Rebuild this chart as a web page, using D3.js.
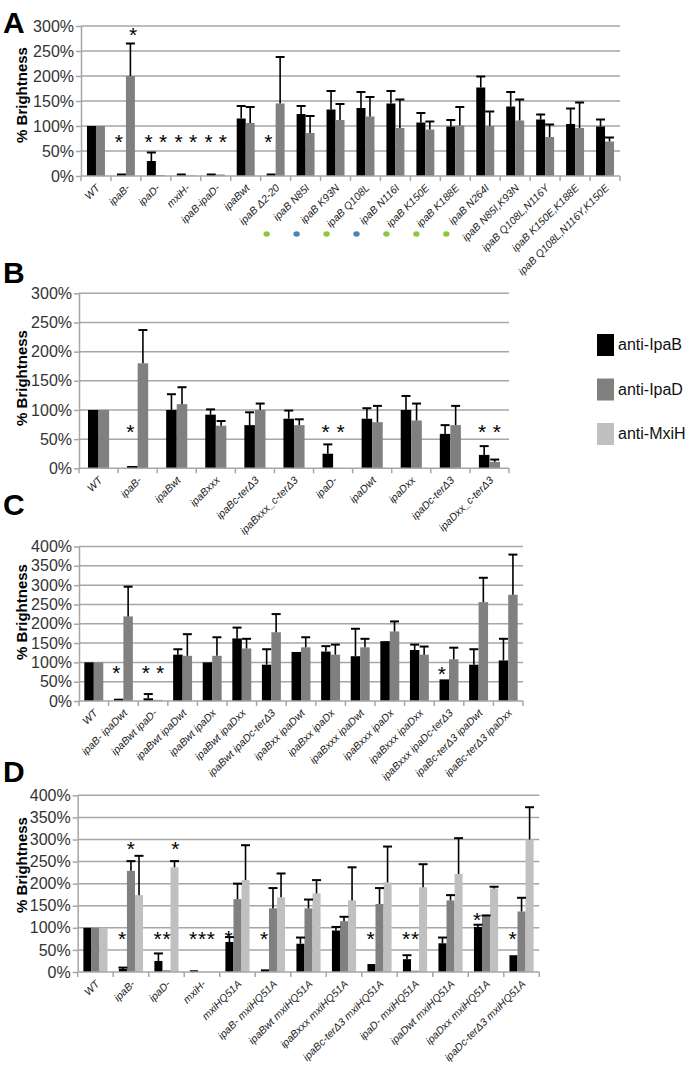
<!DOCTYPE html>
<html><head><meta charset="utf-8">
<script src="https://cdn.jsdelivr.net/npm/d3@7"></script>
<style>body{margin:0;background:#fff;} svg{display:block;font-family:"Liberation Sans",Arial,sans-serif;}</style>
</head><body><svg id="c" width="685" height="1066"></svg>
<script>
// ---------- series ----------
const seriesNames = ["anti-IpaB", "anti-IpaD", "anti-MxiH"];
const seriesColors = ["#000000", "#808080", "#c0c0c0"];

// ---------- Panel A ----------
const catsA = ["WT","ipaB-","ipaD-","mxiH-","ipaB-ipaD-","ipaBwt","ipaB Δ2-20","ipaB N85I","ipaB K93N","ipaB Q108L","ipaB N116I","ipaB K150E","ipaB K188E","ipaB N264I","ipaB N85I,K93N","ipaB Q108L,N116Y","ipaB K150E,K188E","ipaB Q108L,N116Y,K150E"];
const ipaB_A    = [100, 5, 30, 5, 5, 115, 5, 124, 133, 136, 145, 107, 99, 177, 139, 113, 104, 99];
const ipaBErr_A = [null, null, 17, null, null, 25, null, 16, 37, 32, 25, 19, 13, 22, 29, 10, 31, 14];
const ipaD_A    = [100, 200, 2, 1, 3, 106, 145, 86, 112, 119, 96, 93, 101, 100, 111, 78, 96, 69];
const ipaDErr_A = [null, 65, null, null, null, 32, 93, 34, 32, 39, 57, 16, 37, 29, 42, 25, 51, 8];
const ticksA = [0, 50, 100, 150, 200, 250, 300];
// [category, series, level %]
const starsA = [["ipaB-",1,292],["ipaB-",0,78],["ipaD-",0,78],["ipaD-",1,78],["mxiH-",0,78],["mxiH-",1,78],["ipaB-ipaD-",0,78],["ipaB-ipaD-",1,78],["ipaB Δ2-20",0,78]];
const dotsA = [["ipaB Δ2-20","#8dc63f"],["ipaB N85I","#4f81bd"],["ipaB K93N","#8dc63f"],["ipaB Q108L","#4f81bd"],["ipaB N116I","#8dc63f"],["ipaB K150E","#8dc63f"],["ipaB K188E","#8dc63f"]];

// ---------- Panel B ----------
const catsB = ["WT","ipaB-","ipaBwt","ipaBxxx","ipaBc-terΔ3","ipaBxxx_c-terΔ3","ipaD-","ipaDwt","ipaDxx","ipaDc-terΔ3","ipaDxx_c-terΔ3"];
const ipaB_B    = [100, 4, 100, 92, 74, 85, 25, 85, 100, 59, 23];
const ipaBErr_B = [null, null, 27, 9, 22, 14, 16, 18, 24, 15, 15];
const ipaD_B    = [100, 180, 110, 73, 100, 74, 0, 79, 82, 74, 11];
const ipaDErr_B = [null, 57, 29, 8, 11, 10, null, 28, 29, 33, 4];
const ticksB = [0, 50, 100, 150, 200, 250, 300];
const starsB = [["ipaB-",0,71],["ipaD-",0,71],["ipaD-",1,71],["ipaDxx_c-terΔ3",0,71],["ipaDxx_c-terΔ3",1,71]];

// ---------- Panel C ----------
const catsC = ["WT","ipaB- ipaDwt","ipaBwt ipaD-","ipaBwt ipaDwt","ipaBwt ipaDx","ipaBwt ipaDxx","ipaBwt ipaDc-terΔ3","ipaBxx ipaDwt","ipaBxx ipaDx","ipaBxxx ipaDwt","ipaBxxx ipaDx","ipaBxxx ipaDxx","ipaBxxx ipaDc-terΔ3","ipaBc-terΔ3 ipaDwt","ipaBc-terΔ3 ipaDxx"];
const ipaB_C    = [100, 6, 7, 120, 100, 162, 94, 127, 128, 116, 155, 132, 56, 94, 105];
const ipaBErr_C = [null, null, 11, 14, null, 28, 40, null, 14, 71, null, 14, null, 40, 56];
const ipaD_C    = [100, 219, 3, 117, 117, 136, 178, 139, 120, 139, 180, 120, 108, 256, 275];
const ipaDErr_C = [null, 77, null, 56, 48, 25, 47, 26, 26, 22, 26, 21, 30, 63, 104];
const ticksC = [0, 50, 100, 150, 200, 250, 300, 350, 400];
const starsC = [["ipaB- ipaDwt",0,85],["ipaBwt ipaD-",0,85],["ipaBwt ipaD-",1,85],["ipaBxxx ipaDc-terΔ3",0,83]];

// ---------- Panel D ----------
const catsD = ["WT","ipaB-","ipaD-","mxiH-","mxiHQ51A","ipaB- mxiHQ51A","ipaBwt mxiHQ51A","ipaBxxx mxiHQ51A","ipaBc-terΔ3 mxiHQ51A","ipaD- mxiHQ51A","ipaDwt mxiHQ51A","ipaDxx mxiHQ51A","ipaDc-terΔ3 mxiHQ51A"];
const ipaB_D    = [100, 7, 25, 4, 68, 6, 64, 94, 18, 29, 65, 102, 38];
const ipaBErr_D = [null, 3, 17, null, 11, null, 14, 8, null, 9, 13, 5, null];
const ipaD_D    = [100, 229, 4, 0, 165, 144, 144, 115, 154, 3, 162, 127, 137];
const ipaDErr_D = [null, 22, null, null, 35, 46, 20, 10, 36, null, 12, 1, 31];
const mxiH_D    = [100, 174, 237, 0, 208, 169, 178, 162, 203, 192, 222, 189, 300];
const mxiHErr_D = [null, 89, 14, null, 79, 54, 30, 75, 81, 52, 81, 4, 73];
const ticksD = [0, 50, 100, 150, 200, 250, 300, 350, 400];
const starsD = [["ipaB-",0,86],["ipaB-",1,289],["ipaD-",0,86],["ipaD-",1,86],["ipaD-",2,289],["mxiH-",0,86],["mxiH-",1,86],["mxiH-",2,86],["mxiHQ51A",0,88],["ipaB- mxiHQ51A",0,86],["ipaBc-terΔ3 mxiHQ51A",0,87],["ipaD- mxiHQ51A",0,86],["ipaD- mxiHQ51A",1,86],["ipaDxx mxiHQ51A",0,130],["ipaDc-terΔ3 mxiHQ51A",0,87]];

// ---------- layout ----------
const panels = [
  {letter:"A", cats:catsA, values:[ipaB_A, ipaD_A], errs:[ipaBErr_A, ipaDErr_A], ticks:ticksA, stars:starsA, dots:dotsA,
   L:{x0:81, x1:620, yTop:26, yBot:176, frac:0.6, spread:1.6, letterY:33, titleY:95, dotY:234}},
  {letter:"B", cats:catsB, values:[ipaB_B, ipaD_B], errs:[ipaBErr_B, ipaDErr_B], ticks:ticksB, stars:starsB, dots:[],
   L:{x0:79, x1:509, yTop:293.3, yBot:468.3, frac:0.54, spread:1.4, letterY:283, titleY:378}},
  {letter:"C", cats:catsC, values:[ipaB_C, ipaD_C], errs:[ipaBErr_C, ipaDErr_C], ticks:ticksC, stars:starsC, dots:[],
   L:{x0:79, x1:523, yTop:546.5, yBot:701, frac:0.64, spread:1.5, letterY:515, titleY:612}},
  {letter:"D", cats:catsD, values:[ipaB_D, ipaD_D, mxiH_D], errs:[ipaBErr_D, ipaDErr_D, mxiHErr_D], ticks:ticksD, stars:starsD, dots:[],
   L:{x0:77.7, x1:539.3, yTop:795.3, yBot:972, frac:0.68, spread:1.1, letterY:782, titleY:865}}
];

const svg = d3.select("#c");
const gridColor = "#a6a6a6";

panels.forEach(p => {
  const L = p.L;
  const g = svg.append("g");
  const x = d3.scaleBand().domain(p.cats).range([L.x0, L.x1]);
  const y = d3.scaleLinear().domain([0, d3.max(p.ticks)]).range([L.yBot, L.yTop]);
  const ns = p.values.length;
  const half = x.bandwidth() * L.frac / 2;
  const inner = d3.scaleBand().domain(d3.range(ns)).range([-half, half]);
  const cx = c => x(c) + x.bandwidth() / 2;
  const barMid = s => inner(s) + inner.bandwidth() / 2;

  // gridlines
  g.append("g").selectAll("line").data(p.ticks.filter(t => t > 0)).join("line")
    .attr("x1", L.x0).attr("x2", L.x1).attr("y1", d => y(d)).attr("y2", d => y(d))
    .attr("stroke", gridColor).attr("stroke-width", 1.5);

  // bars
  p.values.forEach((vals, s) => {
    g.append("g").selectAll("rect").data(p.cats.map((c, i) => ({c, v: vals[i]})).filter(d => d.v > 0)).join("rect")
      .attr("x", d => cx(d.c) + inner(s)).attr("width", inner.bandwidth())
      .attr("y", d => y(d.v)).attr("height", d => y(0) - y(d.v))
      .attr("fill", seriesColors[s]);
  });

  // error bars
  p.errs.forEach((errs, s) => {
    const data = p.cats.map((c, i) => ({c, v: p.values[s][i], e: errs[i]})).filter(d => d.e != null);
    const eg = g.append("g");
    eg.selectAll("line.v").data(data).join("line").attr("class", "v")
      .attr("x1", d => cx(d.c) + barMid(s))
      .attr("x2", d => cx(d.c) + barMid(s))
      .attr("y1", d => y(d.v)).attr("y2", d => y(d.v + d.e))
      .attr("stroke", "#000").attr("stroke-width", 1.6);
    eg.selectAll("line.h").data(data).join("line").attr("class", "h")
      .attr("x1", d => cx(d.c) + barMid(s) - 4.5)
      .attr("x2", d => cx(d.c) + barMid(s) + 4.5)
      .attr("y1", d => y(d.v + d.e)).attr("y2", d => y(d.v + d.e))
      .attr("stroke", "#000").attr("stroke-width", 2);
  });

  // y axis
  const ya = g.append("g").attr("transform", `translate(${L.x0},0)`)
    .call(d3.axisLeft(y).tickValues(p.ticks).tickFormat(d => d + "%").tickSize(5).tickSizeOuter(0).tickPadding(2));
  ya.select(".domain").attr("stroke", gridColor).attr("stroke-width", 1.5);
  ya.selectAll(".tick line").attr("stroke", gridColor).attr("stroke-width", 1.5);
  ya.selectAll(".tick text").attr("font-size", 16).attr("fill", "#333")
    .attr("font-family", '"Liberation Sans",Arial,sans-serif');

  // x axis line & ticks
  g.append("line").attr("x1", L.x0).attr("x2", L.x1).attr("y1", y(0)).attr("y2", y(0))
    .attr("stroke", gridColor).attr("stroke-width", 1.5);
  g.append("g").selectAll("line").data(p.cats.map(c => x(c)).concat([L.x1])).join("line")
    .attr("x1", d => d).attr("x2", d => d).attr("y1", y(0)).attr("y2", y(0) + 5)
    .attr("stroke", gridColor).attr("stroke-width", 1.5);

  // x labels
  g.append("g").selectAll("text").data(p.cats).join("text")
    .attr("transform", c => `translate(${cx(c) + 2},${y(0) + 10}) rotate(-45)`)
    .attr("text-anchor", "end").attr("dy", "0.35em")
    .attr("font-size", 10.5).attr("font-style", "italic").attr("fill", "#222")
    .text(c => c);

  // asterisks
  g.append("g").selectAll("text").data(p.stars).join("text")
    .attr("x", d => cx(d[0]) + barMid(d[1]) * L.spread)
    .attr("y", d => y(d[2]) + 12)
    .attr("text-anchor", "middle").attr("font-size", 21).attr("fill", "#000")
    .text("*");

  // dots
  g.append("g").selectAll("ellipse").data(p.dots).join("ellipse")
    .attr("cx", d => cx(d[0]) - 9).attr("cy", L.dotY).attr("rx", 3.2).attr("ry", 2.8)
    .attr("fill", d => d[1]);

  // y title
  g.append("text").attr("transform", `translate(27,${L.titleY}) rotate(-90)`)
    .attr("text-anchor", "middle").attr("font-size", 15).attr("font-weight", "bold").attr("fill", "#000")
    .text("% Brightness");

  // panel letter
  g.append("text").attr("x", 3).attr("y", L.letterY).attr("font-size", 30).attr("font-weight", "bold")
    .attr("fill", "#000").text(p.letter);
});

// legend
const legendY = d3.scalePoint().domain(seriesNames).range([334, 423]);
const lg = svg.append("g");
lg.selectAll("rect").data(seriesNames).join("rect")
  .attr("x", 597).attr("y", d => legendY(d)).attr("width", 17).attr("height", 22)
  .attr("fill", (d, i) => seriesColors[i]);
lg.selectAll("text").data(seriesNames).join("text")
  .attr("x", 618).attr("y", d => legendY(d) + 16).attr("font-size", 16).attr("fill", "#111")
  .text(d => d);
</script></body></html>
